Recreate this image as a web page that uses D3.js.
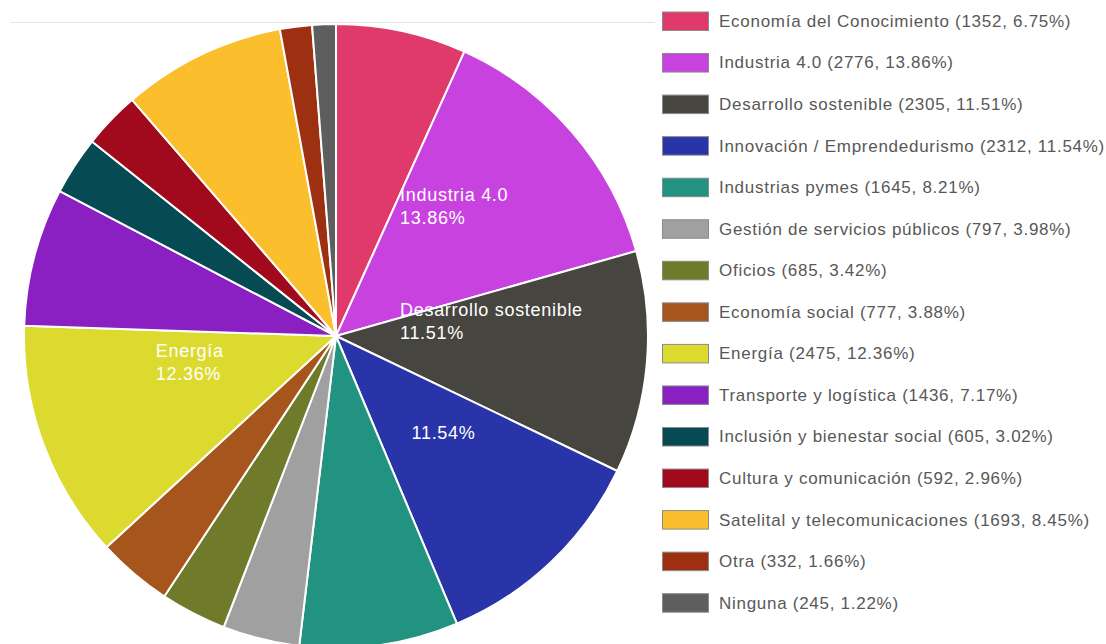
<!DOCTYPE html>
<html>
<head>
<meta charset="utf-8">
<script src="https://cdn.jsdelivr.net/npm/d3@7"></script>
<style>
  html, body { margin: 0; padding: 0; background: #fff; }
  svg { display: block; font-family: "Liberation Sans", Arial, Helvetica, sans-serif; }
</style>
</head>
<body>
<svg id="chart" width="1106" height="644"></svg>
<script>
const categories = [
  "Economía del Conocimiento", "Industria 4.0", "Desarrollo sostenible",
  "Innovación / Emprendedurismo", "Industrias pymes", "Gestión de servicios públicos",
  "Oficios", "Economía social", "Energía", "Transporte y logística",
  "Inclusión y bienestar social", "Cultura y comunicación",
  "Satelital y telecomunicaciones", "Otra", "Ninguna"
];
const values = [1352, 2776, 2305, 2312, 1645, 797, 685, 777, 2475, 1436, 605, 592, 1693, 332, 245];
const colors = [
  "#e03a6b", "#c842e0", "#464540", "#2934a8", "#229380", "#a0a0a0",
  "#6f7a2b", "#a6561c", "#dcda2f", "#8b20c2", "#064b53", "#a00a1c",
  "#fbbf2e", "#9c3010", "#5e5e5e"
];

const svg = d3.select("#chart");
const cx = 336, cy = 336, R = 312;
const total = d3.sum(values);
const pct = v => (v / total * 100).toFixed(2) + "%";

const data = categories.map((c, i) => ({ name: c, value: values[i], color: colors[i] }));

// faint top rule
svg.append("line")
  .attr("x1", 10).attr("x2", 655).attr("y1", 22.5).attr("y2", 22.5)
  .attr("stroke", "#e4e4e4").attr("stroke-width", 1);

const pie = d3.pie().sort(null).value(d => d.value);
const arcs = pie(data);
const arc = d3.arc().innerRadius(0).outerRadius(R);
const labelArc = d3.arc().innerRadius(R * 0.5).outerRadius(R * 0.5);

const g = svg.append("g").attr("transform", `translate(${cx},${cy})`);
g.selectAll("path.slice").data(arcs).join("path")
  .attr("class", "slice")
  .attr("d", arc)
  .attr("fill", d => d.data.color)
  .attr("stroke", "#fff")
  .attr("stroke-width", 2)
  .attr("stroke-linejoin", "round");

// slice labels for big slices
const fontSize = 18, lineH = 23.5;
arcs.filter(d => d.value / total >= 0.10).forEach(d => {
  const [x, y] = labelArc.centroid(d);
  const t = g.append("text")
    .attr("fill", "#fff")
    .attr("font-size", fontSize)
    .attr("letter-spacing", 0.7);
  const probe = t.append("tspan").text(d.data.name);
  const nameW = probe.node().getComputedTextLength();
  probe.remove();
  const lines = nameW < 220 ? [d.data.name, pct(d.value)] : [pct(d.value)];
  const spans = lines.map(s => t.append("tspan").text(s));
  const widths = spans.map(s => s.node().getComputedTextLength());
  const bw = d3.max(widths);
  const left = x - bw / 2;
  const lastBase = y - 10;
  spans.forEach((s, i) => {
    s.attr("x", left).attr("y", lastBase - (lines.length - 1 - i) * lineH);
  });
});

// legend
const legend = svg.append("g");
const rowY = d3.scalePoint().domain(d3.range(categories.length)).range([21, 602.7]);
const rows = legend.selectAll("g").data(data).join("g")
  .attr("transform", (d, i) => `translate(0,${rowY(i)})`);
rows.append("rect")
  .attr("x", 662.5).attr("y", -9).attr("width", 46).attr("height", 18.5)
  .attr("fill", d => d.color)
  .attr("stroke", "#8a8a8a").attr("stroke-width", 1);
rows.append("text")
  .attr("x", 719).attr("y", 5.9)
  .attr("font-size", 17)
  .attr("letter-spacing", 0.72)
  .attr("fill", "#585858")
  .text(d => `${d.name} (${d.value}, ${pct(d.value)})`);
</script>
</body>
</html>
